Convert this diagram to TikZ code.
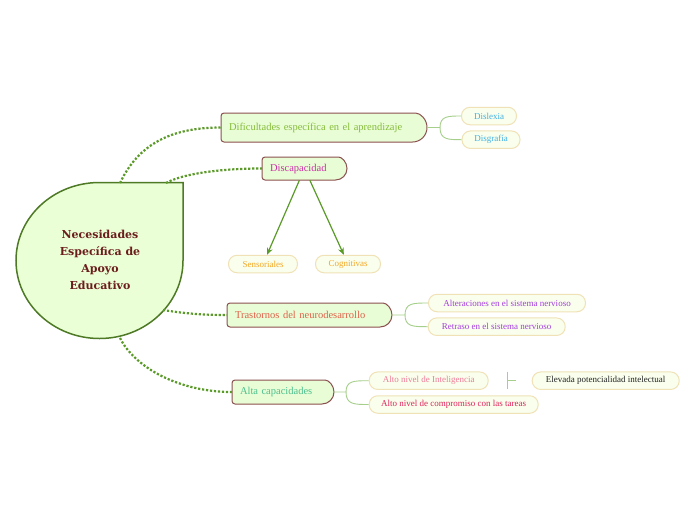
\documentclass[tikz,border=0pt]{standalone}
\usepackage{fontspec}
\setmainfont{Liberation Serif}
\newfontfamily\centralfont{DejaVu Serif}
\usetikzlibrary{calc,arrows.meta}
\definecolor{cFill}{HTML}{EAFFD5}
\definecolor{cCentralBorder}{HTML}{4E7A26}
\definecolor{cCentralText}{HTML}{6B1D1D}
\definecolor{cBrFill}{HTML}{E8FDD5}
\definecolor{cBrBorder}{HTML}{8C5050}
\definecolor{cDot}{HTML}{5A9A28}
\definecolor{cThin}{HTML}{A5CF8A}
\definecolor{cLeafBorder}{HTML}{F0E2B6}
\definecolor{cLeafFill}{HTML}{F9FFEC}
\definecolor{cDif}{HTML}{86BC3A}
\definecolor{cDisc}{HTML}{CC2FA8}
\definecolor{cTras}{HTML}{E0604A}
\definecolor{cAlta}{HTML}{4CC08E}
\definecolor{cBlue}{HTML}{3FB0E6}
\definecolor{cOrange}{HTML}{F5A623}
\definecolor{cPurple}{HTML}{A43BE0}
\definecolor{cPink}{HTML}{F07A9A}
\definecolor{cCrimson}{HTML}{E0205C}
\definecolor{cDark}{HTML}{222222}
\newcommand\brshape[4]{%
  \pgfmathsetmacro\rr{(#4-#2)/2}%
  \draw[brbox] (#3-\rr,#2) arc[start angle=-90,end angle=90,radius=\rr] [rounded corners=3pt] -- (#1,#4) -- (#1,#2) -- cycle;}
\begin{document}
\begin{tikzpicture}[x=1pt,y=-1pt,
  brbox/.style={draw=cBrBorder,fill=cBrFill,line width=1pt},
  branch/.style={draw=none,inner xsep=8pt,inner ysep=0pt,align=left,font=\fontsize{10.5}{12}\selectfont},
  leaf/.style={draw=cLeafBorder,fill=cLeafFill,line width=1pt,rounded corners=8.5pt,minimum height=17.5pt,inner sep=0pt,font=\fontsize{9}{10}\selectfont},
  dotc/.style={draw=cDot,line width=2.2pt,dash pattern=on 2.2pt off 1.8pt},
  thinc/.style={draw=cThin,line width=0.9pt},
  arr/.style={draw=cDot,line width=1.2pt,-{Stealth[length=7pt,width=6pt]}}]
\useasboundingbox (0,0) rectangle (696,520);
\fill[white] (0,0) rectangle (696,520);
% central shape
\draw[draw=cCentralBorder,fill=cFill,line width=1.5pt] (99.5,182.5) -- (183,182.5) -- (183,260.5) arc[start angle=0,end angle=270,x radius=83.5,y radius=78] -- cycle;
\node[align=center,text=cCentralText,font=\centralfont\bfseries\fontsize{11}{17}\selectfont] (nec) at (100,260) {Necesidades\\Específica de\\Apoyo\\Educativo};
% branch boxes
\brshape{221}{113}{427}{142}
\brshape{262}{157}{347}{180}
\brshape{227}{303}{392}{327}
\brshape{232}{380}{334}{404}
% branch nodes
\node[branch,minimum width=206pt,minimum height=29pt,text width=190pt,text=cDif] (dif) at (324,127.5) {Dificultades específica en el aprendizaje};
\node[branch,minimum width=85pt,minimum height=23pt,text width=69pt,text=cDisc] (disc) at (304.5,168.5) {Discapacidad};
\node[branch,minimum width=165pt,minimum height=24pt,text width=149pt,text=cTras] (tras) at (309.5,315) {Trastornos del neurodesarrollo};
\node[branch,minimum width=102pt,minimum height=24pt,text width=86pt,text=cAlta] (alta) at (283,392) {Alta capacidades};
% leaves
\node[leaf,minimum width=55pt,text=cBlue] (dys) at (489,116) {Dislexia};
\node[leaf,minimum width=58pt,text=cBlue] (dgr) at (491,139.7) {Disgrafía};
\node[leaf,minimum width=69pt,text=cOrange] (sens) at (263,264) {Sensoriales};
\node[leaf,minimum width=65pt,text=cOrange] (cog) at (348,264) {Cognitivas};
\node[leaf,minimum width=157pt,text=cPurple] (alt) at (507,303) {Alteraciones en el sistema nervioso};
\node[leaf,minimum width=137pt,text=cPurple] (ret) at (496.7,326.7) {Retraso en el sistema nervioso};
\node[leaf,minimum width=119pt,text=cPink] (ani) at (428.7,380.7) {Alto nivel de Inteligencia};
\node[leaf,minimum width=169pt,text=cCrimson] (anc) at (453.7,404.5) {Alto nivel de compromiso con las tareas};
\node[leaf,minimum width=147pt,text=cDark] (elev) at (605.7,380.7) {Elevada potencialidad intelectual};
% points on the central shape
\coordinate (c1) at (120,183);
\coordinate (c2) at (166,183);
\coordinate (c3) at (163,310);
\coordinate (c4) at (120,338);
% dotted connectors
\draw[dotc] (c1) .. controls (138,145) and (170,127.5) .. (dif.west);
\draw[dotc] (c2) .. controls (180,175) and (215,168.5) .. (disc.west);
\draw[dotc] (c3) .. controls (182,313) and (200,315) .. (tras.west);
\draw[dotc] (c4) .. controls (135,368) and (180,392) .. (alta.west);
% forks
\coordinate (fdif) at (440,127.5);
\draw[thinc] (dif.east) -- (fdif) .. controls (440,116) and (448,116) .. (dys.west);
\draw[thinc] (fdif) .. controls (440,139.7) and (448,139.7) .. (dgr.west);
\coordinate (ftras) at (405,315);
\draw[thinc] (tras.east) -- (ftras) .. controls (405,303) and (413,303) .. (alt.west);
\draw[thinc] (ftras) .. controls (405,326.7) and (413,326.7) .. (ret.west);
\coordinate (falta) at (346,392);
\draw[thinc] (alta.east) -- (falta) .. controls (346,380.7) and (354,380.7) .. (ani.west);
\draw[thinc] (falta) .. controls (346,404.5) and (354,404.5) .. (anc.west);
% tick between Inteligencia and Elevada
\draw[thinc] ($(ani.east)+(18.5,-9)$) -- ($(ani.east)+(18.5,8.5)$);
\draw[thinc] ($(ani.east)+(18.5,0)$) -- ($(elev.west)+(-16,0)$);
% arrows
\draw[arr] (disc) -- (sens);
\draw[arr] (disc) -- (cog);
\end{tikzpicture}
\end{document}
